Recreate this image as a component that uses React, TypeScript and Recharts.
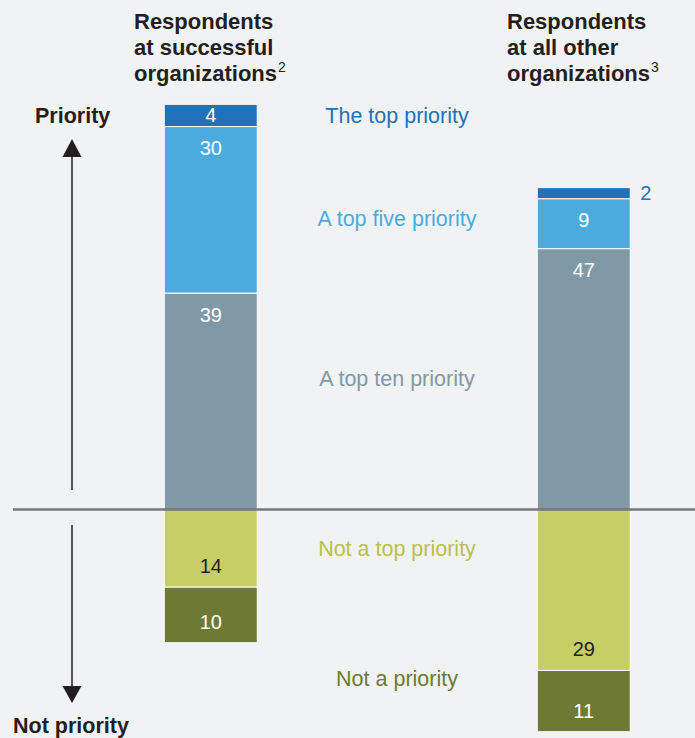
import React from "react";
import { BarChart, Bar, XAxis, YAxis, LabelList } from "recharts";

const categories = ["successful", "other"];
const theTopPriority = [4, 2];
const topFivePriority = [30, 9];
const topTenPriority = [39, 47];
const notTopPriority = [14, 29];
const notAPriority = [10, 11];

const seriesNames = [
  "The top priority",
  "A top five priority",
  "A top ten priority",
  "Not a top priority",
  "Not a priority",
];

const COLORS = {
  top: "#2272B9",
  five: "#4BABDF",
  ten: "#8198A6",
  notTop: "#C8CE66",
  notPri: "#6E7A34",
};

const BG = "#F1F2F4";
const DARK = "#231F20";
const FONT = "'Liberation Sans', Arial, Helvetica, sans-serif";

const row = (i: number) => ({
  name: categories[i],
  top: theTopPriority[i],
  five: topFivePriority[i],
  ten: topTenPriority[i],
  notTop: -notTopPriority[i],
  notPri: -notAPriority[i],
});

// spacer category between the two bars holds the middle captions
const data = [row(0), { name: "" }, row(1)];

const makeLabel = (mode: "pos" | "neg", color: string, outsideColor?: string) => (props: any) => {
  const { x, y, width, height, value } = props;
  if (value === undefined || value === null || value === 0) return null;
  const top = Math.min(y, y + height);
  const h = Math.abs(height);
  const bottom = top + h;
  const txt = String(Math.abs(value));
  if (h < 16) {
    return (
      <text x={x + width + 10} y={top + h / 2} fill={outsideColor || color} fontSize={20}
        fontFamily={FONT} dominantBaseline="central" textAnchor="start">
        {txt}
      </text>
    );
  }
  const cy = mode === "pos" ? top + Math.min(21.5, h / 2) : bottom - 21;
  return (
    <text x={x + width / 2} y={cy} fill={color} fontSize={20} fontFamily={FONT}
      dominantBaseline="central" textAnchor="middle">
      {txt}
    </text>
  );
};

const middleLabels = [
  { text: seriesNames[0], y: 116, color: COLORS.top },
  { text: seriesNames[1], y: 219, color: COLORS.five },
  { text: seriesNames[2], y: 379, color: COLORS.ten },
  { text: seriesNames[3], y: 549, color: "#B9C04F" },
  { text: seriesNames[4], y: 679, color: COLORS.notPri },
];

export default function App() {
  return (
    <div style={{ position: "absolute", left: 0, top: 0, width: 695, height: 738, background: BG, overflow: "hidden" }}>
      <BarChart
        width={695}
        height={738}
        data={data}
        stackOffset="sign"
        margin={{ top: 10, right: 18.25, bottom: 6.5, left: 117.25 }}
        barSize={93}
      >
        <XAxis dataKey="name" type="category" hide />
        <YAxis type="number" domain={[-40, 90]} hide allowDataOverflow />
        <Bar dataKey="ten" stackId="a" fill={COLORS.ten} stroke="#fff" strokeWidth={1} isAnimationActive={false}>
          <LabelList dataKey="ten" content={makeLabel("pos", "#fff")} />
        </Bar>
        <Bar dataKey="five" stackId="a" fill={COLORS.five} stroke="#fff" strokeWidth={1} isAnimationActive={false}>
          <LabelList dataKey="five" content={makeLabel("pos", "#fff")} />
        </Bar>
        <Bar dataKey="top" stackId="a" fill={COLORS.top} stroke="#fff" strokeWidth={1} isAnimationActive={false}>
          <LabelList dataKey="top" content={makeLabel("pos", "#fff", COLORS.top)} />
        </Bar>
        <Bar dataKey="notTop" stackId="a" fill={COLORS.notTop} stroke="#fff" strokeWidth={1} isAnimationActive={false}>
          <LabelList dataKey="notTop" content={makeLabel("neg", DARK)} />
        </Bar>
        <Bar dataKey="notPri" stackId="a" fill={COLORS.notPri} stroke="#fff" strokeWidth={1} isAnimationActive={false}>
          <LabelList dataKey="notPri" content={makeLabel("neg", "#fff")} />
        </Bar>
      </BarChart>
      <svg width={695} height={738} style={{ position: "absolute", left: 0, top: 0, pointerEvents: "none" }}>
        <g fontFamily={FONT} fill={DARK}>
          <text x={134} y={29} fontSize={22} fontWeight="bold">Respondents</text>
          <text x={134} y={55} fontSize={22} fontWeight="bold">at successful</text>
          <text x={134} y={81} fontSize={22} fontWeight="bold">
            organizations<tspan fontSize={14} fontWeight="normal" dx={1} dy={-9}>2</tspan>
          </text>
          <text x={507} y={29} fontSize={22} fontWeight="bold">Respondents</text>
          <text x={507} y={55} fontSize={22} fontWeight="bold">at all other</text>
          <text x={507} y={81} fontSize={22} fontWeight="bold">
            organizations<tspan fontSize={14} fontWeight="normal" dx={1} dy={-9}>3</tspan>
          </text>
          <text x={35} y={123} fontSize={21.5} fontWeight="bold">Priority</text>
          <text x={13} y={733} fontSize={21.5} fontWeight="bold">Not priority</text>
        </g>
        {middleLabels.map((m) => (
          <text key={m.text} x={397} y={m.y} fill={m.color} fontSize={21.5} fontFamily={FONT}
            textAnchor="middle" dominantBaseline="central">
            {m.text}
          </text>
        ))}
        <line x1={13} x2={695} y1={509.5} y2={509.5} stroke="#76787B" strokeWidth={2.5} />
        <line x1={72} x2={72} y1={155} y2={490} stroke={DARK} strokeWidth={1.5} />
        <polygon points="72,139 62.5,157 81.5,157" fill={DARK} />
        <line x1={72} x2={72} y1={525} y2={688} stroke={DARK} strokeWidth={1.5} />
        <polygon points="62.5,686 81.5,686 72,703" fill={DARK} />
      </svg>
    </div>
  );
}
